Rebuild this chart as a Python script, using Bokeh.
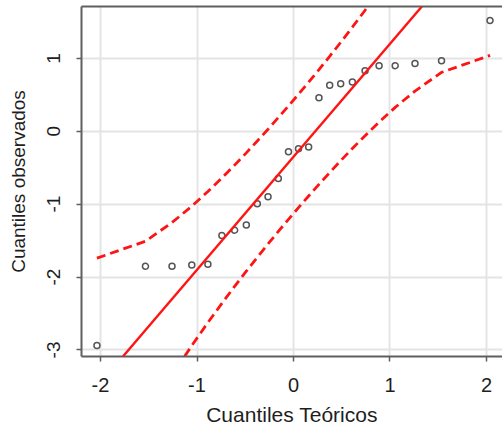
from bokeh.plotting import figure
from bokeh.models import (Range1d, LinearAxis, FixedTicker, Slope, ColumnDataSource,
                          CustomJSTickFormatter)
from bokeh.embed import file_html
from bokeh.resources import INLINE

# Theoretical normal quantiles (x) and observed sorted quantiles (y)
theo_q = [-2.037, -1.534, -1.259, -1.054, -0.887, -0.742, -0.610, -0.489,
          -0.375, -0.264, -0.157, -0.052, 0.052, 0.157, 0.264, 0.375,
          0.489, 0.610, 0.742, 0.887, 1.054, 1.259, 1.534, 2.037]
obs_q = [-2.94, -1.853, -1.853, -1.835, -1.825, -1.43, -1.357, -1.285,
         -0.993, -0.898, -0.648, -0.28, -0.24, -0.216, 0.46, 0.63,
         0.652, 0.675, 0.83, 0.9, 0.9, 0.93, 0.966, 1.52]

# Confidence envelope
band_upper = [-1.741, -1.508, -1.252, -1.028, -0.826, -0.639, -0.464, -0.296,
              -0.133, 0.028, 0.188, 0.347, 0.509, 0.674, 0.846, 1.029,
              1.220, 1.428, 1.661, 1.924, 2.240, 2.650, 3.248, 4.573]
band_lower = [-5.273, -3.948, -3.350, -2.940, -2.624, -2.361, -2.128, -1.920,
              -1.729, -1.546, -1.374, -1.209, -1.047, -0.888, -0.728, -0.567,
              -0.404, -0.236, -0.061, 0.126, 0.328, 0.552, 0.808, 1.041]

# Reference line
line_slope = 1.55
line_intercept = -0.35

x_ticks = [-2, -1, 0, 1, 2]
y_ticks = [-3, -2, -1, 0, 1]
x_label = "Cuantiles Teóricos"
y_label = "Cuantiles observados"

FONT = "Liberation Sans"
AXIS_COL = "#5f5f5f"
GRID_COL = "#e4e4e4"
TEXT_COL = "#1e1e1e"
RED = "#ff1414"

p = figure(width=502, height=428, output_backend="svg", toolbar_location=None,
           x_range=Range1d(-2.197, 2.166), y_range=Range1d(-3.09, 1.712),
           min_border_left=81, min_border_right=0, min_border_top=6,
           min_border_bottom=70, background_fill_color="white",
           border_fill_color="white")
p.outline_line_color = None

# grids
p.xgrid.ticker = FixedTicker(ticks=x_ticks)
p.ygrid.ticker = FixedTicker(ticks=y_ticks)
for g in (p.xgrid, p.ygrid):
    g.grid_line_color = GRID_COL
    g.grid_line_width = 2

fmt = CustomJSTickFormatter(code="return tick.toFixed(0);")

# axes
for ax in (p.xaxis[0], p.yaxis[0]):
    ax.axis_line_color = AXIS_COL
    ax.axis_line_width = 2
    ax.major_tick_line_color = AXIS_COL
    ax.major_tick_line_width = 1.5
    ax.major_tick_out = 5
    ax.major_tick_in = 0
    ax.minor_tick_line_color = None
    ax.major_label_text_font = FONT
    ax.major_label_text_color = TEXT_COL
    ax.axis_label_text_font = FONT
    ax.axis_label_text_font_style = "normal"
    ax.axis_label_text_color = TEXT_COL
    ax.formatter = fmt

p.xaxis[0].ticker = FixedTicker(ticks=x_ticks)
p.yaxis[0].ticker = FixedTicker(ticks=y_ticks)
p.xaxis[0].axis_label = x_label
p.yaxis[0].axis_label = y_label
p.xaxis[0].major_label_text_font_size = "20px"
p.xaxis[0].axis_label_text_font_size = "21px"
p.xaxis[0].major_label_standoff = 16
p.xaxis[0].axis_label_standoff = 8
p.yaxis[0].major_label_text_font_size = "19px"
p.yaxis[0].axis_label_text_font_size = "19px"
p.yaxis[0].major_label_orientation = "vertical"
p.yaxis[0].major_label_standoff = 16
p.yaxis[0].axis_label_standoff = 16

# top border
top = LinearAxis(ticker=FixedTicker(ticks=[]), axis_line_color=AXIS_COL,
                 axis_line_width=2, major_tick_out=0, major_tick_in=0,
                 minor_tick_out=0, minor_tick_in=0, major_label_standoff=0,
                 major_label_text_font_size="0px", axis_label_standoff=0)
p.add_layout(top, "above")

src = ColumnDataSource(dict(x=theo_q, y=obs_q, up=band_upper, lo=band_lower))

p.line("x", "up", source=src, line_color=RED, line_width=2.8, line_dash="9 5")
p.line("x", "lo", source=src, line_color=RED, line_width=2.8, line_dash="9 5")
p.add_layout(Slope(gradient=line_slope, y_intercept=line_intercept,
                   line_color=RED, line_width=2.4))

p.scatter("x", "y", source=src, marker="circle", size=6, fill_color=None,
          line_color="#555555", line_width=1.5)

open("out.html", "w").write(file_html(p, INLINE))
